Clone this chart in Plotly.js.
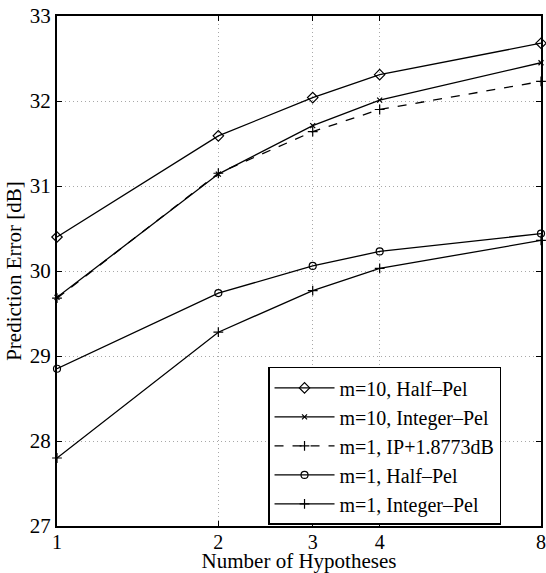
<!DOCTYPE html>
<html>
<head>
<meta charset="utf-8">
<script src="https://cdn.plot.ly/plotly-3.0.1.min.js"></script>
<style>
  html, body { margin: 0; padding: 0; background: #fff; }
  #chart { width: 546px; height: 573px; }
</style>
</head>
<body>
<div id="chart"></div>
<script>
// Number of hypotheses (log-scaled x axis)
const hypotheses = [1, 2, 3, 4, 8];
const xTickLabels = ['1', '2', '3', '4', '8'];

// Prediction error [dB] for each configuration
const m10HalfPel    = [30.40, 31.59, 32.04, 32.31, 32.68];
const m10IntegerPel = [29.69, 31.14, 31.71, 32.01, 32.45];
const m1IPShifted   = [29.68, 31.15, 31.64, 31.90, 32.23];
const m1HalfPel     = [28.85, 29.74, 30.06, 30.23, 30.44];
const m1IntegerPel  = [27.80, 29.28, 29.77, 30.03, 30.36];

const seriesNames = [
  'm=10, Half\u2013Pel',
  'm=10, Integer\u2013Pel',
  'm=1, IP+1.8773dB',
  'm=1, Half\u2013Pel',
  'm=1, Integer\u2013Pel'
];

const FONT = 'Liberation Serif, Times New Roman, serif';

function series(y, name, symbol, dash, size) {
  return {
    x: hypotheses, y: y, name: name, type: 'scatter', mode: 'lines+markers',
    line: { color: '#000', width: 1.3, dash: dash },
    marker: { symbol: symbol, size: size, color: '#000',
              line: { color: '#000', width: 1.2 } },
    cliponaxis: false
  };
}

const traces = [
  series(m10HalfPel,    seriesNames[0], 'diamond-open', 'solid', 8),
  series(m10IntegerPel, seriesNames[1], 'x-thin',       'solid', 5),
  series(m1IPShifted,   seriesNames[2], 'cross-thin',   'dash',  7),
  series(m1HalfPel,     seriesNames[3], 'circle-open',  'solid', 7),
  series(m1IntegerPel,  seriesNames[4], 'cross-thin',   'solid', 7)
];

const axisCommon = {
  showline: true, linecolor: '#000', linewidth: 2, mirror: 'ticks',
  ticks: 'inside', ticklen: 5, tickwidth: 1, tickcolor: '#000',
  showgrid: true, gridcolor: '#a8a8a8', gridwidth: 1, griddash: '1px,3px',
  zeroline: false, automargin: false, ticklabeloverflow: 'allow',
  tickfont: { family: FONT, size: 21, color: '#000' }
};

const layout = {
  width: 546, height: 573,
  margin: { l: 57, r: 5, t: 16, b: 47 },
  paper_bgcolor: '#fff', plot_bgcolor: '#fff',
  font: { family: FONT, size: 21, color: '#000' },
  showlegend: true,
  xaxis: Object.assign({}, axisCommon, {
    type: 'log',
    range: [0, Math.log10(8) + 1e-6],
    tickmode: 'array', tickvals: hypotheses, ticktext: xTickLabels,
    tickfont: { family: FONT, size: 20, color: '#000' },
    ticklabelstandoff: -3,
    title: { text: 'Number of Hypotheses', standoff: 3,
             font: { family: FONT, size: 21, color: '#000' } }
  }),
  yaxis: Object.assign({}, axisCommon, {
    range: [27, 33], dtick: 1, tick0: 27,
    ticklabelstandoff: 0,
    title: { text: 'Prediction Error [dB]', standoff: 2,
             font: { family: FONT, size: 21, color: '#000' } }
  }),
  legend: {
    x: 0.436, y: 0.312, xanchor: 'left', yanchor: 'top',
    bgcolor: '#fff', bordercolor: '#000', borderwidth: 1.5,
    font: { family: FONT, size: 20, color: '#000' },
    itemwidth: 60, tracegroupgap: 0
  }
};

Plotly.newPlot('chart', traces, layout, { displayModeBar: false, staticPlot: true });
</script>
</body>
</html>
